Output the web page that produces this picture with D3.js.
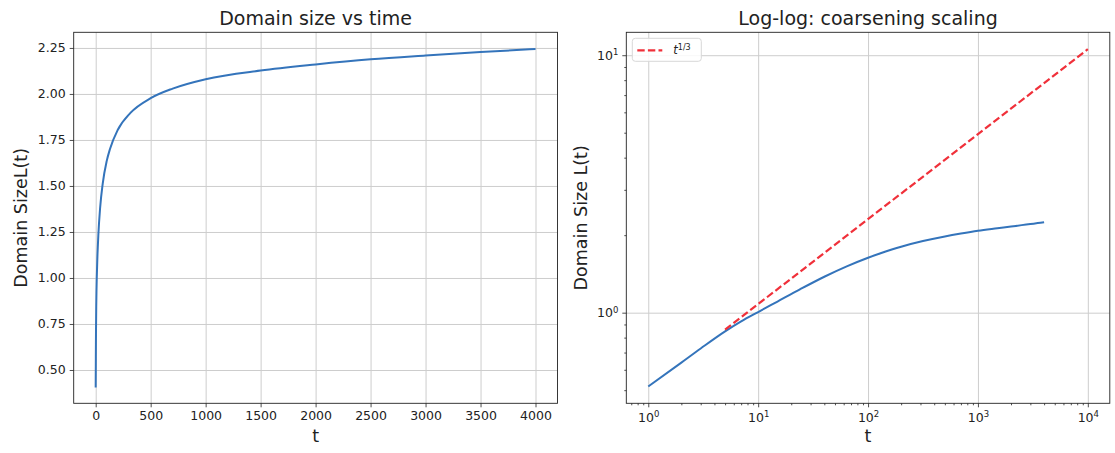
<!DOCTYPE html>
<html>
<head>
<meta charset="utf-8">
<script src="https://cdn.jsdelivr.net/npm/d3@7"></script>
<style>
body { margin: 0; background: #fff; }
text { font-family: "DejaVu Sans", sans-serif; fill: #222; }
</style>
</head>
<body>
<script>
// domain size L(t)
const tValues = [0, 1, 2, 3, 5, 7, 10, 15, 24, 40, 64, 100, 130, 200, 316, 500, 700, 1000, 1500, 2000, 2500, 3000, 3500, 4000]
const lValues = [0.405, 0.517, 0.640, 0.726, 0.846, 0.925, 1.006, 1.105, 1.232, 1.379, 1.513, 1.635, 1.701, 1.804, 1.897, 1.977, 2.029, 2.080, 2.127, 2.160, 2.188, 2.209, 2.228, 2.244]
// reference line t^(1/3), straight on log-log so only end points
const refT = [5, 10000]
const refL = [0.859, 10.55]

const linXTicks = [0, 500, 1000, 1500, 2000, 2500, 3000, 3500, 4000]
const linYTicks = [0.5, 0.75, 1.0, 1.25, 1.5, 1.75, 2.0, 2.25]
const logXTicks = [1, 10, 100, 1000, 10000]
const logYTicks = [1, 10]

const w = 1115
const h = 453
const blue = "#3474bb"
const red = "#f0303a"
const gridCol = "#cdcdcd"

const svg = d3.select("body").append("svg").attr("width", w).attr("height", h)

const series = tValues.map((t, i) => ({t: t, L: lValues[i]}))
const ref = refT.map((t, i) => ({t: t, L: refL[i]}))

function frame(g, x0, y0, x1, y1) {
  g.append("rect").attr("x", x0).attr("y", y0).attr("width", x1 - x0).attr("height", y1 - y0)
    .attr("fill", "none").attr("stroke", "#222").attr("stroke-width", 0.9)
}

function styleAxis(g) {
  g.select(".domain").remove()
  g.selectAll(".tick line").attr("stroke", "#222").attr("stroke-width", 0.8)
  g.selectAll(".tick text").style("font-size", "12.5px").style("font-family", "DejaVu Sans").attr("fill", "#222")
}

function grid(g) {
  g.select(".domain").remove()
  g.selectAll(".tick text").remove()
  g.selectAll(".tick line").attr("stroke", gridCol).attr("stroke-width", 1)
}

// ---------- left: linear ----------
const L = {x0: 73.7, x1: 557.5, y0: 32.3, y1: 403.3}
const x1s = d3.scaleLinear().domain([-200, 4200]).range([L.x0, L.x1])
const y1s = d3.scaleLinear().domain([0.319, 2.335]).range([L.y1, L.y0])
const left = svg.append("g")

left.append("g").attr("transform", "translate(0," + L.y1 + ")")
  .call(d3.axisBottom(x1s).tickValues(linXTicks).tickSize(-(L.y1 - L.y0))).call(grid)
left.append("g").attr("transform", "translate(" + L.x0 + ",0)")
  .call(d3.axisLeft(y1s).tickValues(linYTicks).tickSize(-(L.x1 - L.x0))).call(grid)

left.append("path").datum(series).attr("fill", "none").attr("stroke", blue).attr("stroke-width", 2)
  .attr("d", d3.line().x(d => x1s(d.t)).y(d => y1s(d.L)).curve(d3.curveMonotoneX))

frame(left, L.x0, L.y0, L.x1, L.y1)
left.append("g").attr("transform", "translate(0," + L.y1 + ")")
  .call(d3.axisBottom(x1s).tickValues(linXTicks).tickSize(4).tickPadding(4).tickFormat(d3.format("d"))).call(styleAxis)
left.append("g").attr("transform", "translate(" + L.x0 + ",0)")
  .call(d3.axisLeft(y1s).tickValues(linYTicks).tickSize(4).tickPadding(4).tickFormat(d3.format(".2f"))).call(styleAxis)

left.append("text").attr("x", (L.x0 + L.x1) / 2).attr("y", 25).attr("text-anchor", "middle")
  .style("font-size", "19px").text("Domain size vs time")
left.append("text").attr("x", (L.x0 + L.x1) / 2).attr("y", 442).attr("text-anchor", "middle")
  .style("font-size", "17.5px").text("t")
left.append("text").attr("transform", "translate(27," + (L.y0 + L.y1) / 2 + ") rotate(-90)").attr("text-anchor", "middle")
  .style("font-size", "17.5px").text("Domain SizeL(t)")

// ---------- right: log-log ----------
const R = {x0: 626.3, x1: 1109.8, y0: 32.3, y1: 403.3}
const x2s = d3.scaleLog().domain([Math.pow(10, -0.2), Math.pow(10, 4.2)]).range([R.x0, R.x1])
const y2s = d3.scaleLog().domain([Math.pow(10, -0.352), Math.pow(10, 1.089)]).range([R.y1, R.y0])
const right = svg.append("g")

right.append("g").attr("transform", "translate(0," + R.y1 + ")")
  .call(d3.axisBottom(x2s).tickValues(logXTicks).tickSize(-(R.y1 - R.y0))).call(grid)
right.append("g").attr("transform", "translate(" + R.x0 + ",0)")
  .call(d3.axisLeft(y2s).tickValues(logYTicks).tickSize(-(R.x1 - R.x0))).call(grid)

right.append("path").datum(series.filter(d => d.t > 0)).attr("fill", "none").attr("stroke", blue).attr("stroke-width", 2)
  .attr("d", d3.line().x(d => x2s(d.t)).y(d => y2s(d.L)).curve(d3.curveMonotoneX))
right.append("path").datum(ref).attr("fill", "none").attr("stroke", red).attr("stroke-width", 2.2)
  .attr("stroke-dasharray", "7.4,3.2")
  .attr("d", d3.line().x(d => x2s(d.t)).y(d => y2s(d.L)))

frame(right, R.x0, R.y0, R.x1, R.y1)

const xMinor = x2s.ticks().filter(v => logXTicks.indexOf(v) < 0)
const yMinor = y2s.ticks().filter(v => logYTicks.indexOf(v) < 0)
right.append("g").attr("transform", "translate(0," + R.y1 + ")")
  .call(d3.axisBottom(x2s).tickValues(xMinor).tickSize(2).tickFormat("")).call(styleAxis)
right.append("g").attr("transform", "translate(" + R.x0 + ",0)")
  .call(d3.axisLeft(y2s).tickValues(yMinor).tickSize(2).tickFormat("")).call(styleAxis)

function powLabels(g) {
  g.selectAll(".tick text").each(function(d) {
    const t = d3.select(this)
    t.text("")
    t.append("tspan").text("10")
    t.append("tspan").attr("dy", "-0.55em").style("font-size", "8.5px").text(Math.round(Math.log10(d)))
  })
}
right.append("g").attr("transform", "translate(0," + R.y1 + ")")
  .call(d3.axisBottom(x2s).tickValues(logXTicks).tickSize(4).tickPadding(6)).call(styleAxis).call(powLabels)
right.append("g").attr("transform", "translate(" + R.x0 + ",0)")
  .call(d3.axisLeft(y2s).tickValues(logYTicks).tickSize(4).tickPadding(4)).call(styleAxis).call(powLabels)

right.append("text").attr("x", (R.x0 + R.x1) / 2).attr("y", 25).attr("text-anchor", "middle")
  .style("font-size", "19px").text("Log-log: coarsening scaling")
right.append("text").attr("x", (R.x0 + R.x1) / 2).attr("y", 442).attr("text-anchor", "middle")
  .style("font-size", "17.5px").text("t")
right.append("text").attr("transform", "translate(587," + (R.y0 + R.y1) / 2 + ") rotate(-90)").attr("text-anchor", "middle")
  .style("font-size", "17.5px").text("Domain Size L(t)")

// legend
const lg = right.append("g").attr("transform", "translate(" + (R.x0 + 6) + "," + (R.y0 + 6) + ")")
lg.append("rect").attr("width", 69).attr("height", 23).attr("rx", 3)
  .attr("fill", "#fff").attr("fill-opacity", 0.85).attr("stroke", "#d8d8d8")
lg.append("line").attr("x1", 5).attr("x2", 30).attr("y1", 12).attr("y2", 12)
  .attr("stroke", red).attr("stroke-width", 2.2).attr("stroke-dasharray", "7.4,3.2")
const lt = lg.append("text").attr("x", 41).attr("y", 16).style("font-size", "11.5px")
lt.append("tspan").style("font-style", "italic").text("t")
lt.append("tspan").attr("dy", "-0.5em").style("font-size", "8px").text("1/3")
</script>
</body>
</html>
